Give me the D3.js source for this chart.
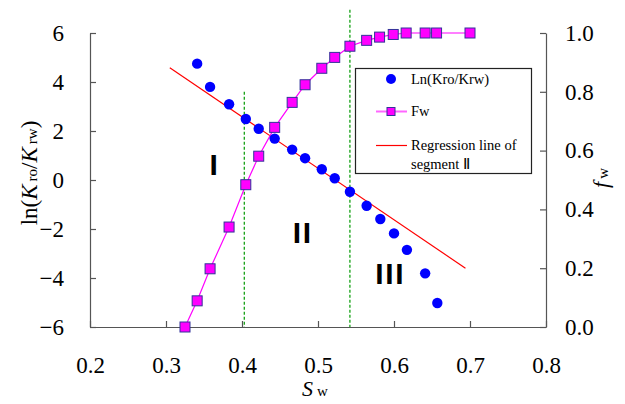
<!DOCTYPE html>
<html>
<head>
<meta charset="utf-8">
<script src="https://cdn.jsdelivr.net/npm/d3@7"></script>
<style>
	body { margin: 0; background: #fff; }
	svg { display: block; }
	.tick text { font-family: "Liberation Serif", "Times New Roman", serif; font-size: 23px; fill: #000; }
	.axis path, .axis line { stroke: #555; stroke-width: 1.2; }
</style>
</head>
<body>
<svg width="625" height="404"></svg>
<script>
// ln(Kro/Krw) points
var swLn = [0.341, 0.358, 0.383, 0.405, 0.422, 0.443, 0.466, 0.483, 0.505, 0.522, 0.542, 0.564, 0.582, 0.600, 0.617, 0.641, 0.657];
var lnK = [4.75, 3.80, 3.09, 2.49, 2.09, 1.69, 1.24, 0.89, 0.44, 0.07, -0.48, -1.05, -1.59, -2.18, -2.85, -3.81, -5.02];

// fractional flow
var swFw = [0.325, 0.341, 0.358, 0.383, 0.405, 0.422, 0.443, 0.466, 0.483, 0.505, 0.522, 0.542, 0.564, 0.581, 0.599, 0.616, 0.641, 0.656, 0.700];
var fw = [0, 0.089, 0.198, 0.340, 0.484, 0.581, 0.679, 0.764, 0.824, 0.880, 0.917, 0.955, 0.975, 0.986, 0.995, 1.0, 1.0, 1.0, 1.0];

// regression line of segment II
var regSw = [0.305, 0.694];
var regLn = [4.58, -3.60];

// segment boundaries (dashed green), top end in ln units
var boundSw = [0.403, 0.542];
var boundTop = [3.6, 6.95];

// segment labels
var segNames = ["I", "II", "III"];
var segSw = [0.364, 0.480, 0.595];
var segLn = [0.67, -2.12, -3.80];

var xTicks = [0.2, 0.3, 0.4, 0.5, 0.6, 0.7, 0.8];
var yTicks = [-6, -4, -2, 0, 2, 4, 6];
var fTicks = [0, 0.2, 0.4, 0.6, 0.8, 1.0];

var svg = d3.select("svg");
var pLeft = 90, pRight = 546, pTop = 33, pBottom = 327;

var x = d3.scaleLinear().domain([0.2, 0.8]).range([pLeft, pRight]);
var y = d3.scaleLinear().domain([-6, 6]).range([pBottom, pTop]);
var yf = d3.scaleLinear().domain([0, 1]).range([pBottom, pTop]);

// axes
svg.append("g").attr("class", "axis")
	.attr("transform", "translate(0," + pBottom + ")")
	.call(d3.axisBottom(x).tickValues(xTicks).tickSizeInner(-6).tickSizeOuter(0).tickPadding(30)
		.tickFormat(d3.format(".1f")));
svg.append("g").attr("class", "axis")
	.attr("transform", "translate(" + pLeft + ",0)")
	.call(d3.axisLeft(y).tickValues(yTicks).tickSizeInner(-6).tickSizeOuter(0).tickPadding(26));
svg.append("g").attr("class", "axis")
	.attr("transform", "translate(" + pRight + ",0)")
	.call(d3.axisRight(yf).tickValues(fTicks).tickSizeInner(-6).tickSizeOuter(0).tickPadding(19)
		.tickFormat(d3.format(".1f")));
svg.selectAll(".axis").attr("font-family", null).attr("font-size", null);

// segment boundaries
svg.append("g").selectAll("line")
	.data(boundSw)
	.enter().append("line")
		.attr("x1", function(d) { return x(d); })
		.attr("x2", function(d) { return x(d); })
		.attr("y1", function(d, i) { return y(boundTop[i]); })
		.attr("y2", y(-6))
		.attr("stroke", "#009900")
		.attr("stroke-width", 1.2)
		.attr("stroke-dasharray", "3,2");

// regression line
svg.append("line")
	.attr("x1", x(regSw[0])).attr("y1", y(regLn[0]))
	.attr("x2", x(regSw[1])).attr("y2", y(regLn[1]))
	.attr("stroke", "#ff0000")
	.attr("stroke-width", 1.2);

// fw curve
var fwLine = d3.line()
	.x(function(d, i) { return x(swFw[i]); })
	.y(function(d) { return yf(d); });
svg.append("path")
	.datum(fw)
	.attr("d", fwLine)
	.attr("fill", "none")
	.attr("stroke", "#ff00ff")
	.attr("stroke-width", 1.2);

// ln points
svg.append("g").selectAll("circle")
	.data(lnK)
	.enter().append("circle")
		.attr("cx", function(d, i) { return x(swLn[i]); })
		.attr("cy", function(d) { return y(d); })
		.attr("r", 5.2)
		.attr("fill", "#0000ff");

// fw squares
svg.append("g").selectAll("rect")
	.data(fw)
	.enter().append("rect")
		.attr("x", function(d, i) { return x(swFw[i]) - 5; })
		.attr("y", function(d) { return yf(d) - 5; })
		.attr("width", 10)
		.attr("height", 10)
		.attr("fill", "#ff00ff")
		.attr("stroke", "#333399")
		.attr("stroke-width", 1);

// segment labels
svg.append("g").selectAll("text")
	.data(segNames)
	.enter().append("text")
		.attr("x", function(d, i) { return x(segSw[i]); })
		.attr("y", function(d, i) { return y(segLn[i]) + 11; })
		.attr("text-anchor", "middle")
		.attr("font-family", "Liberation Sans, Arial, sans-serif")
		.attr("font-weight", "bold")
		.attr("font-size", 30)
		.attr("letter-spacing", 1.7)
		.text(function(d) { return d; });

// legend
var serif = "Liberation Serif, Times New Roman, serif";
var lg = svg.append("g").attr("font-family", serif).attr("font-size", 14.5);
lg.append("rect")
	.attr("x", 355.5).attr("y", 68.5).attr("width", 176).attr("height", 105)
	.attr("fill", "#fff").attr("stroke", "#222").attr("stroke-width", 1.2);
lg.append("circle").attr("cx", 391).attr("cy", 79).attr("r", 5).attr("fill", "#0000ff");
lg.append("text").attr("x", 411).attr("y", 84).text("Ln(Kro/Krw)");
lg.append("line").attr("x1", 376).attr("x2", 407).attr("y1", 111.5).attr("y2", 111.5)
	.attr("stroke", "#ff66ff").attr("stroke-width", 2);
lg.append("rect").attr("x", 387).attr("y", 107.5).attr("width", 8).attr("height", 8)
	.attr("fill", "#ff00ff").attr("stroke", "#333399");
lg.append("text").attr("x", 411).attr("y", 116).text("Fw");
lg.append("line").attr("x1", 376).attr("x2", 407).attr("y1", 145.5).attr("y2", 145.5)
	.attr("stroke", "#ff0000").attr("stroke-width", 1.2);
lg.append("text").attr("x", 411).attr("y", 150).text("Regression line of");
lg.append("text").attr("x", 411).attr("y", 169).text("segment \u2161");

// axis titles
var xt = svg.append("text")
	.attr("x", 315).attr("y", 396)
	.attr("text-anchor", "middle")
	.attr("font-family", serif).attr("font-size", 22);
xt.append("tspan").attr("font-style", "italic").text("S");
xt.append("tspan").attr("font-size", 15).attr("dx", 4).text("w");

var yt = svg.append("text")
	.attr("transform", "translate(37,173) rotate(-90)")
	.attr("text-anchor", "middle")
	.attr("font-family", serif).attr("font-size", 23);
yt.append("tspan").text("ln(");
yt.append("tspan").attr("font-style", "italic").text("K");
yt.append("tspan").attr("font-size", 15).attr("dx", 3).text("ro");
yt.append("tspan").text("/");
yt.append("tspan").attr("font-style", "italic").text("K");
yt.append("tspan").attr("font-size", 15).attr("dx", 3).text("rw");
yt.append("tspan").text(")");

var ft = svg.append("text")
	.attr("transform", "translate(608,178) rotate(-90)")
	.attr("text-anchor", "middle")
	.attr("font-family", serif).attr("font-size", 22);
ft.append("tspan").attr("font-style", "italic").text("f");
ft.append("tspan").attr("font-size", 15).attr("dx", 3).text("w");
</script>
</body>
</html>
